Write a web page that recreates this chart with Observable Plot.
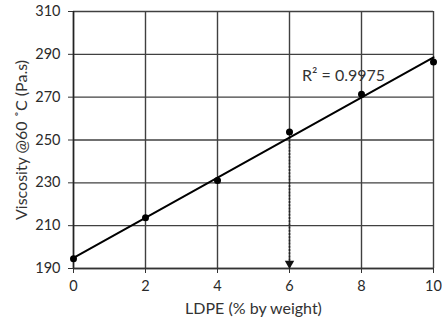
<!DOCTYPE html>
<html><head><meta charset="utf-8">
<script src="https://cdn.jsdelivr.net/npm/d3@7"></script>
<script src="https://cdn.jsdelivr.net/npm/@observablehq/plot@0.6"></script>
<style>body{margin:0;background:#fff}</style>
</head><body><div id="chart"></div>
<script>
const ldpe = [0, 2, 4, 6, 8, 10];
const viscosity = [194.5, 213.7, 231.1, 253.7, 271.4, 286.4];
const xTicks = [0, 2, 4, 6, 8, 10];
const yTicks = [190, 210, 230, 250, 270, 290, 310];
const r2Label = "R² = 0.9975";
const xLabel = "LDPE (% by weight)";
const yLabel = "Viscosity @60 ˚C (Pa.s)";
const markX = 6;

const data = ldpe.map((x, i) => ({x, y: viscosity[i]}));
const mx = d3.mean(ldpe), my = d3.mean(viscosity);
const slope = d3.sum(data, d => (d.x - mx) * (d.y - my)) / d3.sum(data, d => (d.x - mx) ** 2);
const intercept = my - slope * mx;
const fitAt = x => intercept + slope * x;
const arrow = [{x: markX, y1: fitAt(markX), y2: yTicks[0]}];

const gridStyle = {stroke: "#404040", strokeOpacity: 1, strokeWidth: 1.4};

const chart = Plot.plot({
  width: 442, height: 326,
  marginLeft: 73, marginRight: 9, marginTop: 11, marginBottom: 58,
  style: {fontFamily: "Lato, sans-serif", fontSize: "14.5px", color: "#2a2a2a", background: "#fff"},
  x: {domain: [xTicks[0], xTicks[xTicks.length - 1]], label: null},
  y: {domain: [yTicks[0], yTicks[yTicks.length - 1]], label: null},
  marks: [
    Plot.gridX(xTicks, gridStyle),
    Plot.gridY(yTicks, gridStyle),
    Plot.ruleX([xTicks[0]], {stroke: "#222", strokeWidth: 1.5}),
    Plot.ruleY([yTicks[0]], {stroke: "#333", strokeWidth: 1.5}),
    Plot.axisX({ticks: xTicks, tickSize: 5, tickPadding: 7, stroke: "#333", label: null}),
    Plot.axisY({ticks: yTicks, tickSize: 5, tickPadding: 8, stroke: "#333", label: null}),
    Plot.ruleX(arrow, {x: "x", y1: "y1", y2: "y2", stroke: "#222", strokeWidth: 1.6, strokeDasharray: "2,1.2"}),
    Plot.dot(arrow, {x: "x", y: "y2", symbol: "triangle2", r: 4.5, fill: "#111", rotate: 180, dy: -5}),
    Plot.linearRegressionY(data, {x: "x", y: "y", ci: 0, stroke: "#000", strokeWidth: 2}),
    Plot.dot(data, {x: "x", y: "y", r: 3.5, fill: "#000"}),
    Plot.text([r2Label], {x: 6.35, y: 280, textAnchor: "start", fontSize: 16, fill: "#333"}),
    Plot.text([xLabel], {frameAnchor: "bottom", textAnchor: "middle", dy: 45, fontSize: 16, fill: "#333"}),
    Plot.text([yLabel], {frameAnchor: "left", textAnchor: "middle", dx: -52, rotate: -90, fontSize: 16, fill: "#333"})
  ]
});
document.getElementById("chart").appendChild(chart);
</script>
</body></html>
